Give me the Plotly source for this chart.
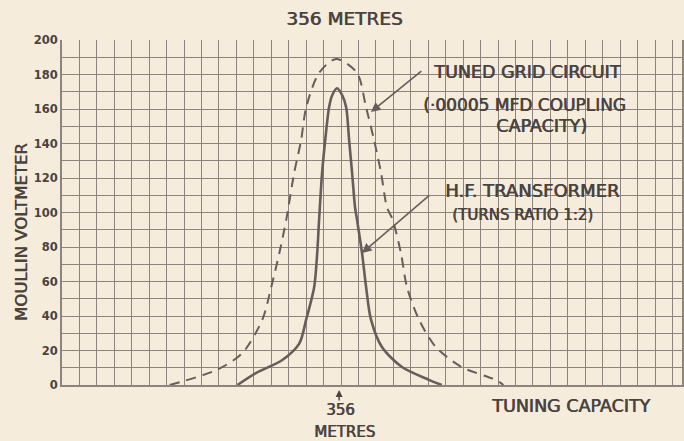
import plotly.graph_objects as go

# ---- data (x in grid squares of tuning capacity, y in Moullin voltmeter reading) ----
grid_x = [6.17, 8.86, 10.34, 11.49, 12.0, 12.46, 12.86, 13.31, 13.71, 14.0, 14.74, 15.71,
          16.91, 17.43, 17.89, 18.29, 18.63, 18.95, 19.43, 19.77, 20.46, 21.43, 22.91, 24.86, 25.31]
grid_y = [0, 8.7, 18.5, 38, 57, 76.5, 96, 123, 142, 161, 181, 189,
          181, 161, 142, 123, 103, 96, 76.5, 57, 38, 22, 10.4, 3, 0]

hf_x = [10.06, 11.14, 12.63, 13.6, 14.0, 14.46, 14.63, 14.74, 14.91, 15.09, 15.31, 15.49, 15.77,
        16.06, 16.29, 16.46, 16.63, 16.8, 16.91, 17.2, 17.43, 17.71, 18.34, 19.49, 21.03, 21.77]
hf_y = [0, 7, 14.5, 24, 38, 57, 76.5, 96, 123, 142, 161, 168, 172,
        168, 161, 142, 123, 103, 96, 76.5, 57, 38, 22, 10.4, 3, 0]

y_tick_vals = list(range(0, 201, 10))
y_tick_text = [str(v) if v % 20 == 0 else "" for v in y_tick_vals]
x_grid_vals = [i for i in range(0, 36)]

BG = "#f6ecdc"
GRID = "#8f847d"
INK = "#4a4340"
CURVE = "#675d5a"
FONT = "DejaVu Sans, sans-serif"
SHADOW = "0.7px 0px 0px #4a4340"

fig = go.Figure()
fig.add_trace(go.Scatter(x=grid_x, y=grid_y, mode="lines", line_shape="spline",
                         line=dict(color=CURVE, width=2, dash="10px,7px", smoothing=0.8),
                         name="Tuned grid circuit", hoverinfo="skip"))
fig.add_trace(go.Scatter(x=hf_x, y=hf_y, mode="lines", line_shape="spline",
                         line=dict(color=CURVE, width=2.6, smoothing=0.8),
                         name="H.F. transformer", hoverinfo="skip"))

L, T, B, W, H = 62, 40, 56, 684, 441
PW, PH = W - L, H - T - B
XR = 622 / 17.5


def px(xp):
    return (xp - L) / PW


def py(yp):
    return (H - B - yp) / PH


def lab(x, y, text, size, angle=0, yanchor="middle"):
    return dict(x=px(x), y=py(y), text=text, textangle=angle, xref="paper", yref="paper",
                showarrow=False, xanchor="center", yanchor=yanchor,
                font=dict(size=size, color=INK, family=FONT, weight=400, shadow=SHADOW))


ann = [
    lab(345, 18, "356 METRES", 18.5),
    lab(528, 72, "TUNED GRID CIRCUIT", 17.5),
    lab(526, 105, "(·00005 MFD COUPLING", 17),
    lab(543, 126, "CAPACITY)", 17.5),
    lab(534, 190, "H.F. TRANSFORMER", 18),
    lab(524, 215, "(TURNS RATIO 1:2)", 15),
    lab(341, 421, "356", 15, yanchor="bottom"),
    lab(345, 421, "METRES", 15, yanchor="top"),
    lab(572, 406, "TUNING CAPACITY", 17.5),
    lab(21, 232, "MOULLIN VOLTMETER", 16.5, -90),
]

# arrows
arrow_specs = [((372, 112), (424, 70), CURVE, 1.2, 1.6),
               ((363, 253), (432, 194), CURVE, 1.2, 1.6),
               ((340, 390), (340, 402), INK, 1.0, 1.4)]
for (hx, hy), (tx, ty), col, size, wd in arrow_specs:
    ann.append(dict(x=px(hx), y=py(hy), ax=px(tx), ay=py(ty), xref="x domain", yref="y domain",
                    axref="x domain", ayref="y domain", showarrow=True, arrowhead=2,
                    arrowsize=size, arrowwidth=wd, arrowcolor=col, text=""))

fig.update_layout(
    width=W, height=H, margin=dict(l=L, r=0, t=T, b=B),
    paper_bgcolor=BG, plot_bgcolor=BG, showlegend=False,
    font=dict(family=FONT, color=INK),
    annotations=ann,
    xaxis=dict(range=[0, XR], tickvals=x_grid_vals, showticklabels=False, showgrid=True,
               gridcolor=GRID, gridwidth=1.4, zeroline=False, showline=True,
               linecolor=GRID, linewidth=2, ticks="", fixedrange=True),
    yaxis=dict(range=[0, 200], tickvals=y_tick_vals, ticktext=y_tick_text, showgrid=True,
               gridcolor=GRID, gridwidth=1.4, zeroline=False, showline=True, mirror=True,
               linecolor=GRID, linewidth=2, ticks="", ticklen=0,
               tickfont=dict(size=11.5, color=INK, family=FONT, weight=700), fixedrange=True),
)

fig.write_html("out.html", config={"displayModeBar": False},
               post_script="document.body.style.margin='0';"
                           "document.body.style.background='" + BG + "';")
